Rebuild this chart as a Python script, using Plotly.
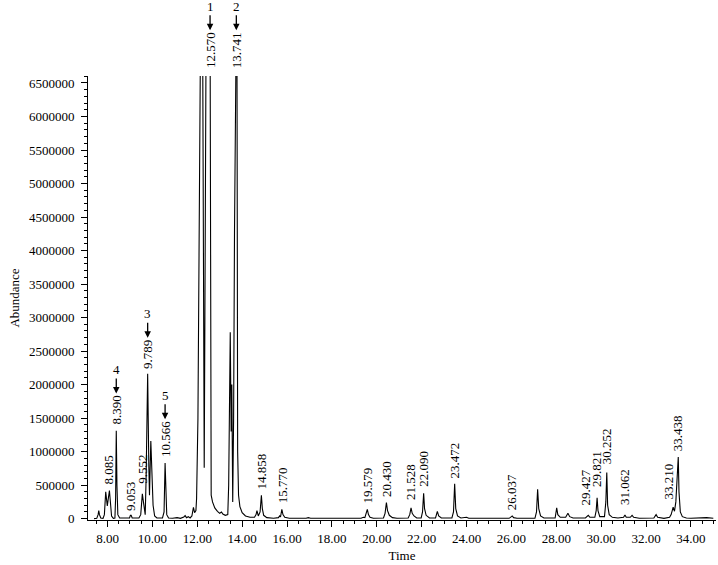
import plotly.graph_objects as go

# ---- chromatogram trace (time in min, abundance) ----
time = [7.40, 7.52, 7.58, 7.61, 7.64, 7.70, 7.80, 7.86, 7.92, 7.99, 8.085, 8.13, 8.18, 8.26,
        8.33, 8.36, 8.390, 8.42, 8.46, 8.54, 8.80, 8.98, 9.02, 9.053, 9.10, 9.40, 9.48, 9.552,
        9.60, 9.64, 9.68, 9.72, 9.789, 9.84, 9.87, 9.93, 9.98, 10.03, 10.10, 10.20, 10.45,
        10.52, 10.566, 10.60, 10.64, 10.72, 10.90, 11.10, 11.25, 11.40, 11.46, 11.52, 11.60,
        11.68, 11.76, 11.83, 11.88, 11.94, 11.97, 12.03, 12.10, 12.14, 12.24, 12.29, 12.31,
        12.34, 12.37, 12.39, 12.570, 12.60, 12.62, 12.68, 12.78, 12.90, 13.00, 13.08, 13.14,
        13.25, 13.36, 13.40, 13.44, 13.47, 13.51, 13.54, 13.58, 13.62, 13.66, 13.70, 13.741,
        13.77, 13.80, 13.84, 13.90, 14.00, 14.15, 14.35, 14.55, 14.62, 14.66, 14.72, 14.80,
        14.858, 14.90, 14.96, 15.10, 15.40, 15.62, 15.67, 15.71, 15.770, 15.82, 15.90, 16.10,
        16.85, 16.95, 17.05, 17.90, 17.97, 18.05, 19.30, 19.40, 19.47, 19.579, 19.63, 19.70,
        19.85, 20.30, 20.37, 20.430, 20.48, 20.56, 20.70, 20.90, 21.40, 21.47, 21.528, 21.58,
        21.66, 21.78, 21.98, 22.04, 22.090, 22.13, 22.20, 22.35, 22.62, 22.70, 22.76, 22.88,
        23.35, 23.42, 23.472, 23.52, 23.60, 23.75, 23.92, 24.00, 24.10, 25.90, 26.00, 26.037,
        26.10, 26.25, 27.05, 27.12, 27.17, 27.22, 27.30, 27.45, 27.95, 28.02, 28.07, 28.18,
        28.42, 28.52, 28.60, 28.75, 29.30, 29.38, 29.427, 29.50, 29.72, 29.78, 29.821, 29.86,
        29.94, 30.15, 30.21, 30.252, 30.29, 30.36, 30.50, 30.75, 31.00, 31.062, 31.12, 31.30,
        31.38, 31.45, 31.70, 32.35, 32.45, 32.52, 32.80, 33.05, 33.12, 33.210, 33.27, 33.33,
        33.40, 33.438, 33.47, 33.53, 33.62, 33.80, 34.00, 34.50, 34.70, 35.00]

abundance = [0, 5000, 60000, 120000, 60000, 10000, 5000, 60000, 400000, 190000, 420000, 150000,
             40000, 5000, 10000, 300000, 1310000, 500000, 60000, 10000, 5000, 10000, 50000, 50000,
             10000, 10000, 60000, 370000, 250000, 120000, 60000, 600000, 2160000, 800000, 350000,
             1160000, 600000, 200000, 40000, 10000, 10000, 100000, 830000, 300000, 60000, 10000,
             5000, 15000, 5000, 25000, 45000, 15000, 30000, 10000, 40000, 170000, 90000, 120000,
             300000, 1500000, 5000000, 7000000, 7200000, 2500000, 760000, 3000000, 5700000,
             7000000, 7500000, 2000000, 350000, 250000, 160000, 110000, 80000, 100000, 70000,
             50000, 60000, 500000, 2000000, 2780000, 1300000, 2000000, 250000, 1500000, 4300000,
             7000000, 7500000, 7000000, 1000000, 350000, 180000, 90000, 40000, 20000, 20000,
             60000, 120000, 40000, 100000, 350000, 150000, 50000, 15000, 5000, 15000, 40000,
             25000, 140000, 60000, 20000, 5000, 5000, 15000, 5000, 5000, 15000, 5000, 5000,
             20000, 15000, 140000, 60000, 20000, 5000, 10000, 80000, 240000, 120000, 50000,
             15000, 5000, 10000, 60000, 160000, 80000, 40000, 10000, 10000, 100000, 380000,
             150000, 50000, 10000, 10000, 110000, 40000, 10000, 10000, 100000, 520000, 150000,
             40000, 10000, 15000, 20000, 5000, 5000, 30000, 40000, 15000, 5000, 5000, 100000,
             440000, 150000, 40000, 10000, 10000, 160000, 60000, 20000, 20000, 80000, 30000,
             10000, 10000, 40000, 50000, 20000, 20000, 120000, 310000, 120000, 30000, 30000,
             250000, 690000, 200000, 60000, 20000, 10000, 20000, 55000, 20000, 20000, 50000,
             20000, 5000, 10000, 60000, 20000, 5000, 20000, 60000, 170000, 110000, 250000,
             700000, 920000, 400000, 100000, 30000, 10000, 5000, 10000, 15000, 5000]

# ---- peak labels ----
label_times = [8.085, 8.390, 9.053, 9.552, 9.789, 10.566, 12.570, 13.741, 14.858, 15.770,
               19.579, 20.430, 21.528, 22.090, 23.472, 26.037, 29.427, 29.821, 30.252,
               31.062, 33.210, 33.438]
label_texts = ["8.085", "8.390", "9.053", "9.552", "9.789", "10.566", "12.570", "13.741",
               "14.858", "15.770", "19.579", "20.430", "21.528", "22.090", "23.472",
               "26.037", "29.427", "29.821", "30.252", "31.062", "33.210", "33.438"]
# numbered compounds (arrow markers)
numbered = {"12.570": "1", "13.741": "2", "9.789": "3", "8.390": "4", "10.566": "5"}

y_ticks = [0, 500000, 1000000, 1500000, 2000000, 2500000, 3000000, 3500000, 4000000,
           4500000, 5000000, 5500000, 6000000, 6500000]
y_ticktext = [str(v) for v in y_ticks]
x_ticks = [8, 10, 12, 14, 16, 18, 20, 22, 24, 26, 28, 30, 32, 34]
x_ticktext = ["%.2f" % v for v in x_ticks]

FONT = "Liberation Serif"
FS = 13
YTOP = 6604000
# label placement tweaks (pixels)
gaps = {"9.053": 2, "9.552": 8, "9.789": 3, "29.427": 8, "29.821": 9, "31.062": 8,
        "21.528": 6, "30.252": 6, "33.210": 6, "23.472": 3}
xshifts = {"33.210": -5, "29.427": -3, "8.085": -1}

fig = go.Figure()
fig.add_trace(go.Scatter(x=time, y=abundance, mode="lines",
                         line=dict(color="#000000", width=1.1), hoverinfo="skip",
                         showlegend=False))


def apex(t):
    return max(a for tt, a in zip(time, abundance) if abs(tt - t) < 0.03)


annotations = []
for t, txt in zip(label_times, label_texts):
    lab_len = (sum(c.isdigit() for c in txt) * 0.5 + 0.25) * FS + 2
    if apex(t) > YTOP:
        yref, yv, gap = "paper", 1, 6
    else:
        yref, yv, gap = "y", apex(t), gaps.get(txt, 4)
    annotations.append(dict(x=t, y=yv, xref="x", yref=yref, text=txt, textangle=-90,
                            showarrow=False, xanchor="center", yanchor="bottom", yshift=gap,
                            xshift=xshifts.get(txt, 0),
                            font=dict(family=FONT, size=FS, color="#000")))
    if txt in numbered:
        annotations.append(dict(x=t, y=yv, xref="x", yref=yref, text=numbered[txt],
                                showarrow=True, ax=0, ay=-24, arrowhead=2, arrowsize=1,
                                arrowwidth=1.3, arrowcolor="#000",
                                yshift=gap + lab_len + 2,
                                font=dict(family=FONT, size=FS, color="#000")))

fig.update_layout(
    width=718, height=565,
    margin=dict(l=88, r=2, t=76, b=45),
    paper_bgcolor="white", plot_bgcolor="white",
    font=dict(family=FONT, size=FS, color="#000"),
    annotations=annotations,
    hovermode=False,
    xaxis=dict(range=[7.13, 35.12], tickvals=x_ticks, ticktext=x_ticktext,
               showgrid=False, zeroline=False, showline=True, linecolor="#000", linewidth=1,
               ticks="outside", ticklen=6, tickwidth=1, tickcolor="#000",
               minor=dict(dtick=0.5, tick0=0, ticks="outside", ticklen=3, tickcolor="#000"),
               tickfont=dict(family=FONT, size=FS, color="#000"),
               title=dict(text="Time", font=dict(family=FONT, size=FS, color="#000"), standoff=6)),
    yaxis=dict(range=[-20000, YTOP], tickvals=y_ticks, ticktext=y_ticktext,
               showgrid=False, zeroline=False, showline=True, linecolor="#000", linewidth=1,
               ticks="outside", ticklen=6, tickwidth=1, tickcolor="#000",
               minor=dict(dtick=100000, tick0=0, ticks="outside", ticklen=3, tickcolor="#000"),
               tickfont=dict(family=FONT, size=FS, color="#000"), ticklabelstandoff=4,
               title=dict(text="Abundance", font=dict(family=FONT, size=FS, color="#000"),
                          standoff=6)),
)

# remove the default page margin so the figure sits at the window's top-left corner
fig.write_html("out.html", config={"displayModeBar": False, "staticPlot": True},
               post_script="document.body.style.margin='0';document.body.style.overflow='hidden';")
